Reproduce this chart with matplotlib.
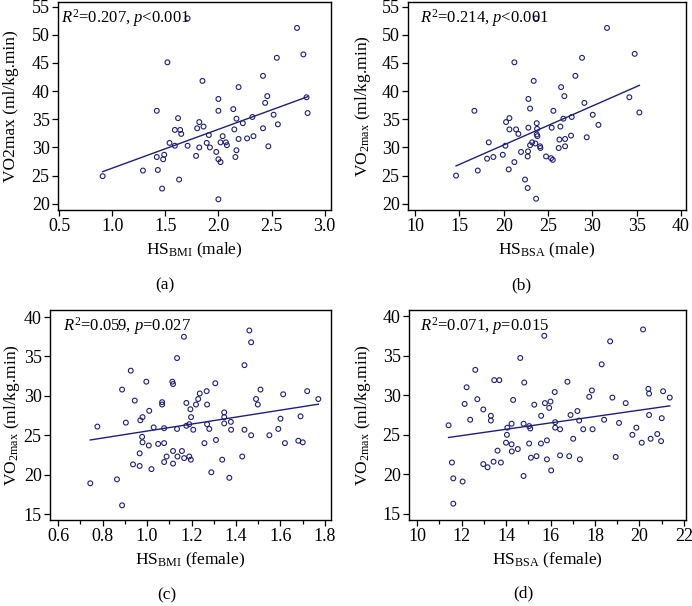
import numpy as np
import matplotlib
matplotlib.use("Agg")
import matplotlib.pyplot as plt
from matplotlib.ticker import MultipleLocator

plt.rcParams['font.family'] = ['Liberation Serif', 'DejaVu Serif']
plt.rcParams['mathtext.fontset'] = 'custom'
plt.rcParams['mathtext.rm'] = 'Liberation Serif'
plt.rcParams['mathtext.it'] = 'Liberation Serif:italic'
plt.rcParams['font.size'] = 12

# ---- panel (a): HS_BMI male ----
a_x = [0.91, 1.29, 1.42, 1.42, 1.43, 1.47, 1.48, 1.49, 1.52, 1.54, 1.59, 1.59, 1.62, 1.63, 1.64,
       1.65, 1.71, 1.71, 1.79, 1.80, 1.82, 1.82, 1.85, 1.86, 1.89, 1.91, 1.92, 1.98, 2.00, 2.00,
       2.00, 2.00, 2.02, 2.02, 2.04, 2.07, 2.08, 2.14, 2.15, 2.16, 2.17, 2.17, 2.19, 2.19, 2.23,
       2.27, 2.32, 2.33, 2.42, 2.42, 2.44, 2.46, 2.47, 2.52, 2.55, 2.56, 2.74, 2.80, 2.83, 2.84]
a_y = [24.9, 25.9, 36.5, 28.3, 26.0, 22.7, 27.9, 28.7, 45.1, 30.8, 30.3, 33.1, 35.2, 24.3, 33.1,
       32.4, 52.9, 30.3, 28.5, 33.4, 34.5, 30.0, 41.8, 33.7, 30.8, 32.2, 30.0, 29.2, 38.6, 36.5,
       27.9, 20.8, 30.9, 27.4, 32.0, 30.9, 30.4, 36.8, 33.2, 28.3, 29.5, 35.1, 40.7, 31.5, 34.3,
       31.6, 35.4, 32.0, 42.7, 33.4, 37.9, 39.1, 30.2, 35.8, 45.9, 34.1, 51.2, 46.5, 38.9, 36.1]
a_fit = (6.89, 19.43)   # slope, intercept

# ---- panel (b): HS_BSA male ----
b_x = [14.62, 17.07, 16.69, 18.31, 18.12, 18.83, 19.89, 20.19, 20.26, 20.64, 20.64, 20.56, 21.2,
       21.2, 21.39, 21.65, 21.95, 22.4, 22.7, 22.78, 22.78, 22.7, 22.74, 22.97, 22.97, 23.2,
       23.38, 23.65, 23.72, 23.76, 23.72, 23.8, 23.65, 23.57, 24.1, 24.14, 24.77, 25.34, 25.53,
       25.41, 25.6, 26.2, 26.28, 26.39, 26.47, 26.73, 26.84, 26.92, 26.92, 27.59, 27.67, 28.08,
       28.83, 29.1, 29.36, 30.04, 30.68, 31.65, 34.17, 34.77, 35.3]
b_y = [25.0, 25.9, 36.5, 30.9, 28.0, 28.3, 28.7, 30.3, 34.5, 35.2, 33.2, 26.1, 45.1,
       27.4, 33.2, 32.4, 29.2, 24.3, 22.8, 38.6, 33.5, 28.4, 29.3, 36.9, 30.4, 30.9,
       41.8, 52.9, 34.3, 33.3, 32.3, 32.0, 20.9, 30.7, 30.2, 29.9, 28.4, 28.1, 27.8,
       33.5, 36.5, 29.9, 31.4, 33.7, 40.7, 35.1, 39.1, 31.5, 30.2, 32.1, 35.4, 42.7,
       45.9, 37.9, 31.8, 35.8, 34.0, 51.2, 38.9, 46.6, 36.2]
b_fit = (0.691, 16.62)

# ---- panel (c): HS_BMI female ----
c_x = [0.745, 0.777, 0.865, 0.888, 0.888, 0.905, 0.927, 0.937, 0.945, 0.967, 0.967, 0.970, 0.980,
       0.978, 0.980, 0.997, 1.010, 1.008, 1.020, 1.030, 1.050, 1.068, 1.068, 1.077, 1.077, 1.077,
       1.088, 1.114, 1.117, 1.117, 1.117, 1.135, 1.135, 1.137, 1.157, 1.166, 1.167, 1.177, 1.177,
       1.190, 1.190, 1.195, 1.198, 1.197, 1.208, 1.220, 1.230, 1.237, 1.258, 1.268, 1.270, 1.270,
       1.280, 1.289, 1.307, 1.310, 1.347, 1.347, 1.347, 1.338, 1.370, 1.377, 1.378, 1.428, 1.438,
       1.438, 1.460, 1.468, 1.468, 1.490, 1.498, 1.510, 1.550, 1.590, 1.600, 1.612, 1.620, 1.680,
       1.690, 1.700, 1.720, 1.770]
c_y = [18.9, 26.1, 19.4, 16.1, 30.8, 26.6, 33.2, 21.3, 29.4, 22.7, 21.1, 26.9, 27.3,
       24.8, 24.1, 31.8, 28.1, 23.7, 20.7, 26.0, 23.9, 29.2, 28.9, 25.9, 24.0, 21.6,
       22.3, 31.8, 31.5, 23.0, 21.4, 34.8, 25.8, 22.3, 23.0, 37.5, 22.1, 29.1, 26.2,
       26.4, 22.3, 28.3, 27.3, 21.9, 25.7, 28.9, 29.6, 30.3, 24.0, 30.6, 28.9, 26.4,
       25.8, 20.3, 31.6, 24.4, 27.9, 27.3, 26.5, 21.9, 19.6, 26.7, 25.7, 22.3, 33.9,
       25.7, 38.3, 36.8, 25.0, 29.6, 28.9, 30.8, 25.0, 25.8, 27.1, 30.2, 24.0, 24.3,
       27.4, 24.1, 30.6, 29.6]
c_fit = (4.43, 21.1)

# ---- panel (d): HS_BSA female ----
d_x = [11.42, 11.57, 11.63, 11.63, 12.05, 12.14, 12.23, 12.39, 12.62, 12.71, 12.98, 12.98, 13.17,
       13.32, 13.32, 13.44, 13.47, 13.62, 13.70, 13.77, 14.00, 14.04, 14.06, 14.25, 14.26, 14.25,
       14.32, 14.53, 14.64, 14.79, 14.79, 14.82, 15.04, 15.04, 15.09, 15.12, 15.27, 15.37, 15.57,
       15.58, 15.72, 15.75, 15.84, 15.84, 15.94, 16.00, 16.03, 16.19, 16.21, 16.21, 16.43, 16.43,
       16.76, 16.84, 16.90, 17.02, 17.21, 17.29, 17.32, 17.47, 17.74, 17.86, 17.89, 18.30, 18.41,
       18.68, 18.78, 18.93, 19.08, 19.38, 19.68, 19.86, 20.10, 20.16, 20.40, 20.43, 20.43, 20.50,
       20.80, 20.97, 21.00, 21.06, 21.36]
d_y = [26.2, 21.5, 19.5, 16.3, 19.1, 28.9, 31.0, 26.9, 33.2, 29.5, 28.2, 21.3, 20.9,
       27.4, 26.8, 21.6, 31.9, 23.0, 31.9, 21.5, 24.0, 25.0, 25.9, 23.8, 22.9, 26.4,
       29.4, 23.2, 34.7, 26.4, 19.8, 31.6, 23.9, 26.1, 25.8, 22.1, 28.8, 22.3, 23.9,
       27.4, 37.5, 29.0, 24.3, 21.9, 28.4, 29.2, 20.5, 30.4, 26.6, 25.9, 25.7, 22.4,
       31.7, 22.3, 27.5, 24.5, 28.0, 26.8, 21.9, 25.7, 29.8, 30.6, 25.7, 33.9, 26.9,
       36.8, 29.7, 22.2, 26.5, 29.0, 25.0, 25.9, 24.0, 38.3, 30.8, 30.2, 27.5, 24.5,
       25.1, 24.2, 27.1, 30.5, 29.7]
d_fit = (0.402, 20.07)

navy = '#1f1f78'
W, H = 692, 606
fig = plt.figure(figsize=(W / 100, H / 100), dpi=100)


def px_axes(l, t, r, b):
    return fig.add_axes([l / W, 1 - b / H, (r - l) / W, (b - t) / H])


panels = [
    # x, y, fit, box(px), xlim, ylim, xtick step, minor, ylabel, xlabel, note, ylab x, tag pos, note offset
    (a_x, a_y, a_fit, (58, 2, 331, 210), (0.49, 3.06), (18.9, 55.8), 0.5, None,
     'VO2max (ml/kg.min)', 'HS$_{\\mathrm{BMI}}$ (male)', '$R^2$=0.207, $p$<0.001', -0.143, (165, 285), 3),
    (b_x, b_y, b_fit, (408, 2, 686, 210), (9.2, 40.56), (18.9, 55.8), 5, None,
     'VO$_{\\mathrm{2max}}$ (ml/kg.min)', 'HS$_{\\mathrm{BSA}}$ (male)', '$R^2$=0.214, $p$<0.001', -0.126, (521, 285), 12),
    (c_x, c_y, c_fit, (50, 310, 331, 520), (0.564, 1.827), (14.24, 40.9), 0.2, 0.1,
     'VO$_{\\mathrm{2max}}$ (ml/kg.min)', 'HS$_{\\mathrm{BMI}}$ (female)', '$R^2$=0.059, $p$=0.027', -0.100, (167, 595), 13),
    (d_x, d_y, d_fit, (409, 310, 686, 520), (9.64, 22.09), (14.24, 40.76), 2, 1,
     'VO$_{\\mathrm{2max}}$ (ml/kg.min)', 'HS$_{\\mathrm{BSA}}$ (female)', '$R^2$=0.071, $p$=0.015', -0.130, (523, 593), 11),
]
tags = ['(a)', '(b)', '(c)', '(d)']

for i, (xs, ys, fit, box, xl, yl, step, minor, ylab, xlab, note, ylx, tag, noff) in enumerate(panels):
    ax = px_axes(*box)
    ax.scatter(xs, ys, s=12, facecolors='none', edgecolors=navy, linewidths=0.8, zorder=3)
    xs_arr = np.array([min(xs), max(xs)])
    ax.plot(xs_arr, fit[0] * xs_arr + fit[1], color=navy, lw=1.0)
    ax.set_xlim(*xl)
    ax.set_ylim(*yl)
    ax.xaxis.set_major_locator(MultipleLocator(step))
    if minor:
        ax.xaxis.set_minor_locator(MultipleLocator(minor))
    ax.yaxis.set_major_locator(MultipleLocator(5))
    if step < 1:
        ax.xaxis.set_major_formatter(plt.FormatStrFormatter('%.1f'))
    ax.tick_params(direction='out', length=4, width=0.9, labelsize=13, pad=2)
    ax.tick_params(which='minor', direction='out', length=3, width=0.9)
    for sp in ax.spines.values():
        sp.set_linewidth(1.0)
    ax.set_ylabel(ylab, fontsize=12.5)
    ax.yaxis.set_label_coords(ylx, 0.5)
    ax.set_xlabel(xlab, fontsize=12.5, labelpad=4)
    ax.annotate(note, xy=(0, 1), xycoords='axes fraction', xytext=(noff * 0.72, -4),
                textcoords='offset points', ha='left', va='top', fontsize=12)
    fig.text(tag[0] / W, 1 - tag[1] / H, tags[i], ha='center', va='center', fontsize=12.5)

fig.savefig('out.png', dpi=100)
